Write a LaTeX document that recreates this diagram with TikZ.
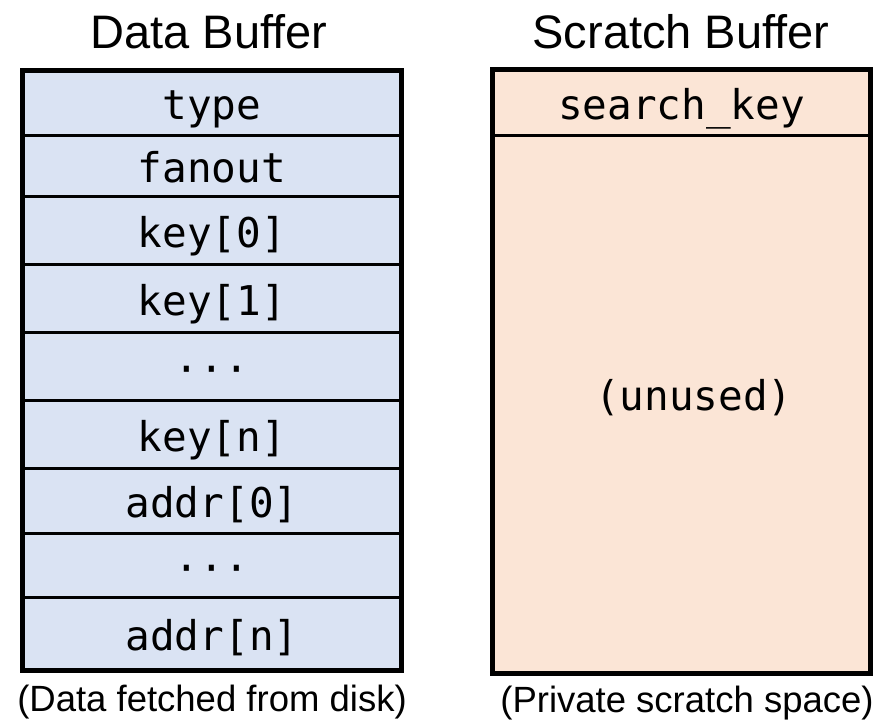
\documentclass[tikz,border=0pt]{standalone}
\usepackage{fontspec}
\setmainfont{Liberation Sans}
\newfontfamily\codefont{DejaVu Sans Mono}
\definecolor{databg}{HTML}{DAE3F3}
\definecolor{scratchbg}{HTML}{FBE5D6}

\begin{document}
\begin{tikzpicture}[
    x=1pt, y=-1pt,
    field/.style={draw, line width=3pt, outer sep=0pt, inner sep=0pt, fill=databg,
      minimum width=379pt, text height=36pt, text depth=2pt,
      font=\codefont\fontsize{41}{45}\selectfont},
    scratch/.style={field, fill=scratchbg, minimum width=378pt},
    frame/.style={draw, line width=5pt},
    caption/.style={anchor=base, inner sep=0pt, font=\fontsize{36.5}{40}\selectfont},
    title/.style={caption, font=\fontsize{47}{52}\selectfont},
  ]
    \useasboundingbox (0,0) rectangle (879,720);
    % data buffer rows: name/top/bottom/text
    \foreach \name/\top/\bot/\txt in {type/70.5/135/type, fanout/135/196/fanout,
        key0/196/264/key[0], key1/264/332/key[1], kdots/332/400/···,
        keyn/400/468/key[n], addr0/468/533/addr[0], adots/533/597/···,
        addrn/597/670/addr[n]}
      \node[field, minimum height={\bot-\top}] (\name) at (212,{(\top+\bot)/2}) {\txt};
    \draw[frame] (type.north west) rectangle (addrn.south east);

    % scratch buffer
    \node[scratch, minimum height=66] (skey) at (681.5,102) {search\_key};
    \node[scratch, minimum height=538, text height=14pt] (unused) at (681.5,404) {\ (unused)};
    \draw[frame] (skey.north west) rectangle (unused.south east);

    \node[title] (datatitle) at (209,48) {Data Buffer};
    \node[title] (scratchtitle) at (681,48) {Scratch Buffer};
    \node[caption] (datanote) at (212,711) {(Data fetched from disk)};
    \node[caption] (scratchnote) at (687,712) {(Private scratch space)};
\end{tikzpicture}
\end{document}
